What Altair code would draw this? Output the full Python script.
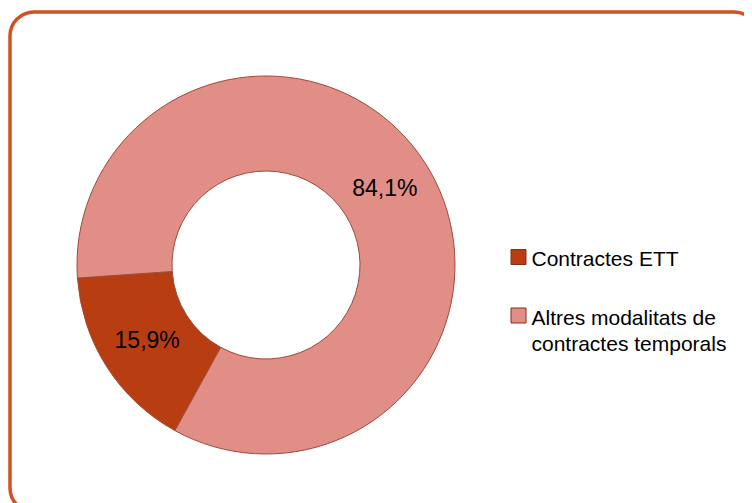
import math
import altair as alt
import pandas as pd

# data
categories = ["Contractes ETT", "Altres modalitats de\ncontractes temporals"]
values = [15.9, 84.1]
labels = ["15,9%", "84,1%"]
colors = ["#B83E12", "#E08E86"]

df = pd.DataFrame({
    "cat": categories,
    "value": values,
    "label": labels,
    "idx": list(range(len(categories))),
})

start = math.radians(208.8)
theta_scale = alt.Scale(range=[start, start + 2 * math.pi])
color_scale = alt.Scale(domain=categories, range=colors)

CX, CY = 256, 253

base = alt.Chart(df)

donut = base.mark_arc(outerRadius=189, innerRadius=94, stroke="#9E4A3C", strokeWidth=1).encode(
    theta=alt.Theta("value:Q", stack=True, scale=theta_scale),
    color=alt.Color("cat:N", scale=color_scale, legend=None),
    order=alt.Order("idx:Q"),
    x=alt.value(CX),
    y=alt.value(CY),
)

text = base.mark_text(radius=141, font="Liberation Sans", fontSize=23, color="#000000",
                      align="center", baseline="middle").encode(
    theta=alt.Theta("value:Q", stack=True, scale=theta_scale),
    text="label:N",
    order=alt.Order("idx:Q"),
    x=alt.value(CX),
    y=alt.value(CY),
)

leg_y = alt.Y("cat:N", scale=alt.Scale(domain=categories, range=[245, 303.5], padding=0), axis=None)

leg_sym = base.mark_square(size=225, stroke="#7E2E1E", strokeWidth=1, opacity=1).encode(
    x=alt.value(508.5),
    y=leg_y,
    color=alt.Color("cat:N", scale=color_scale, legend=None),
)

leg_txt = base.mark_text(align="left", baseline="alphabetic", dy=9, lineBreak="\n",
                         lineHeight=26, font="Liberation Sans", fontSize=21, color="#000000").encode(
    x=alt.value(521.5),
    y=leg_y,
    text="cat:N",
)

chart = alt.layer(donut, text, leg_sym, leg_txt).properties(
    width=748,
    height=500,
    padding={"left": 2, "top": 4, "right": -14, "bottom": 0},
    autosize=alt.AutoSizeParams(type="none"),
).configure_view(
    stroke="#D4501C",
    strokeWidth=3.5,
    cornerRadius=24,
    fill="white",
)

chart.save("out.html", embed_options={"renderer": "svg", "actions": False})
